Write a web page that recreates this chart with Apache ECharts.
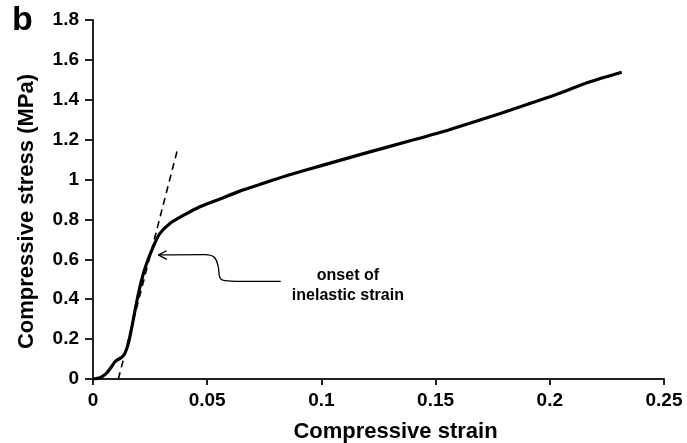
<!DOCTYPE html>
<html>
<head>
<meta charset="utf-8">
<script src="https://cdn.jsdelivr.net/npm/echarts@6/dist/echarts.min.js"></script>
<style>html,body{margin:0;padding:0;background:#fff}#c{width:687px;height:443px}</style>
</head>
<body>
<div id="c"></div>
<script>
// Stress–strain curve (strain, stress in MPa)
var strain = [0, 0.002, 0.004, 0.006, 0.008, 0.0095, 0.011, 0.0125, 0.014, 0.0155, 0.017, 0.019, 0.0213, 0.0235, 0.0264, 0.0293, 0.0337, 0.0395, 0.0468, 0.0556, 0.0643, 0.073, 0.085, 0.1, 0.12, 0.14, 0.156, 0.178, 0.2, 0.2176, 0.2315];
var stress = [0, 0.003, 0.012, 0.03, 0.06, 0.085, 0.098, 0.108, 0.13, 0.18, 0.26, 0.38, 0.497, 0.58, 0.664, 0.73, 0.78, 0.82, 0.864, 0.903, 0.942, 0.975, 1.02, 1.07, 1.135, 1.198, 1.25, 1.33, 1.415, 1.49, 1.538];
// Elastic tangent line (dashed)
var tangentStrain = [0.0111, 0.0373];
var tangentStress = [0, 1.165];
// Annotation arrow path (strain, stress)
var arrowStrain = [0.0822, 0.0648, 0.0572, 0.0555, 0.0548, 0.053, 0.049, 0.0286];
var arrowStress = [0.489, 0.489, 0.494, 0.51, 0.565, 0.612, 0.624, 0.622];
var arrowHeadStrain = [0.0323, 0.0286, 0.0323];
var arrowHeadStress = [0.643, 0.622, 0.600];
var annotationText = 'onset of\ninelastic strain';
var annotationAt = [0.1116, 0.466];
var xTicks = {min: 0, max: 0.25, interval: 0.05};
var yTicks = {min: 0, max: 1.8, interval: 0.2};

function zip(a, b) { return a.map(function (v, i) { return [v, b[i]]; }); }

var FONT = '"Liberation Sans", Arial, sans-serif';
var chart = echarts.init(document.getElementById('c'));
chart.setOption({
  backgroundColor: '#fff',
  animation: false,
  grid: {left: 93, right: 23, top: 20, bottom: 64, containLabel: false, outerBoundsMode: 'none'},
  xAxis: {
    type: 'value', min: xTicks.min, max: xTicks.max, interval: xTicks.interval,
    name: 'Compressive strain', nameLocation: 'middle', nameGap: 42,
    nameTextStyle: {fontFamily: FONT, fontWeight: 'bold', fontSize: 22, color: '#000', padding: [0, 0, 0, 34]},
    axisLine: {show: true, lineStyle: {color: '#222', width: 2}},
    axisTick: {show: true, inside: false, length: 6, lineStyle: {color: '#222', width: 2}},
    axisLabel: {fontFamily: FONT, fontWeight: 'bold', fontSize: 19, color: '#000', margin: 12},
    splitLine: {show: false}
  },
  yAxis: {
    type: 'value', min: yTicks.min, max: yTicks.max, interval: yTicks.interval,
    name: 'Compressive stress (MPa)', nameLocation: 'middle', nameGap: 55,
    nameTextStyle: {fontFamily: FONT, fontWeight: 'bold', fontSize: 22, color: '#000', padding: [0, 24, 0, 0]},
    axisLine: {show: true, lineStyle: {color: '#222', width: 2}},
    axisTick: {show: true, inside: false, length: 8, lineStyle: {color: '#222', width: 2}},
    axisLabel: {fontFamily: FONT, fontWeight: 'bold', fontSize: 19, color: '#000', margin: 14},
    splitLine: {show: false}
  },
  graphic: [
    {type: 'text', left: 12, top: 4, style: {text: 'b', font: 'bold 34px ' + FONT, fill: '#000'}}
  ],
  series: [
    {
      type: 'line', data: zip(tangentStrain, tangentStress), showSymbol: false, silent: true,
      lineStyle: {color: '#000', width: 1.6, type: [7, 5]}, z: 2
    },
    {
      type: 'line', data: zip(strain, stress), showSymbol: false, smooth: 0.2,
      lineStyle: {color: '#000', width: 3.2}, z: 3
    },
    {
      type: 'line', data: zip(arrowStrain, arrowStress), showSymbol: false, smooth: 0.4, silent: true,
      lineStyle: {color: '#000', width: 1.3}, z: 4
    },
    {
      type: 'line', data: zip(arrowHeadStrain, arrowHeadStress), showSymbol: false, silent: true,
      lineStyle: {color: '#000', width: 1.3}, z: 4,
      markPoint: {
        symbol: 'rect', symbolSize: 0, silent: true,
        data: [{coord: annotationAt, value: annotationText}],
        label: {show: true, formatter: annotationText, fontFamily: FONT, fontWeight: 'bold', fontSize: 16, lineHeight: 20, color: '#000', align: 'center', verticalAlign: 'middle'}
      }
    }
  ]
});
</script>
</body>
</html>
